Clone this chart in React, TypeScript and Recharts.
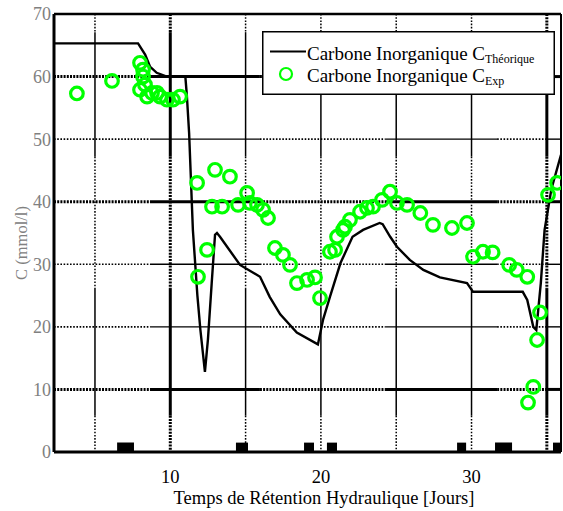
import React from 'react';
import {
  ComposedChart, Line, Scatter, XAxis, YAxis, ReferenceLine, ReferenceArea,
} from 'recharts';

// Theoretical curve (time in days, C in mmol/l)
const T_THEO = [2.28, 7.86, 8.33, 8.65, 9.1, 9.77, 11.0, 11.1, 11.25, 11.5, 11.8, 12.0, 12.3, 12.5, 12.75, 12.97, 13.1, 13.3, 14.63, 15.96, 16.6, 17.3, 18.4, 19.8, 20.15, 20.6, 21.3, 22.1, 22.8, 23.9, 24.1, 24.6, 25.05, 25.9, 26.8, 27.9, 29.7, 30.1, 33.4, 33.7, 34.1, 34.3, 34.6, 34.85, 35.3, 35.94];
const C_THEO = [65.3, 65.3, 63.5, 61.6, 60.6, 60.0, 60.0, 57.0, 51.0, 35.5, 25.0, 19.5, 12.8, 18.0, 27.0, 34.7, 35.0, 34.4, 29.9, 28.0, 24.8, 22.0, 19.1, 17.2, 21.2, 24.8, 30.2, 34.4, 35.5, 36.6, 36.4, 34.4, 32.8, 30.7, 29.1, 27.9, 27.0, 25.6, 25.6, 24.3, 20.0, 19.5, 27.0, 35.5, 42.0, 47.5];

// Experimental points
const T_EXP = [3.8, 6.13, 7.99, 8.19, 8.19, 7.99, 8.32, 8.46, 8.79, 9.12, 9.32, 9.78, 10.18, 10.65,
  11.78, 12.97, 13.96, 12.77, 13.44, 14.5, 15.1, 15.29, 15.76, 16.16, 16.49, 12.44, 11.84, 16.95, 17.48, 17.95, 18.41, 19.08, 19.61, 19.94, 20.6, 21.07, 21.6,
  20.94, 21.47, 21.93, 22.6, 23.06, 23.46, 24.06, 24.59, 25.05, 25.72, 26.6, 27.44, 28.7, 29.7, 30.1, 30.76, 31.4, 32.5, 33.0, 33.7, 34.55, 34.35, 34.1, 33.75, 35.08, 35.68];
const C_EXP = [57.3, 59.3, 62.2, 61.1, 60.0, 57.9, 58.7, 56.8, 57.4, 57.4, 56.8, 56.3, 56.3, 56.8,
  43.0, 45.1, 44.0, 39.2, 39.2, 39.5, 41.4, 39.8, 39.5, 38.7, 37.4, 32.3, 28.0, 32.6, 31.5, 29.9, 27.0, 27.5, 27.9, 24.6, 32.0, 34.4, 36.0,
  32.3, 35.5, 37.1, 38.4, 39.0, 39.2, 40.3, 41.6, 39.8, 39.5, 38.2, 36.3, 35.8, 36.6, 31.2, 32.0, 31.9, 29.9, 29.1, 28.0, 22.3, 17.9, 10.4, 7.9, 41.1, 43.0];

// Small black markers along the time axis
const MARK_START = [6.47, 14.36, 18.88, 20.4, 29.04, 31.56, 35.41];
const MARK_END = [7.59, 15.16, 19.54, 21.07, 29.64, 32.69, 35.94];
const MARK_H = 1.5;

const X_TICKS = [5, 10, 15, 20, 25, 30, 35];
const X_LABELED = [10, 20, 30];
const Y_TICKS = [0, 10, 20, 30, 40, 50, 60, 70];
const Y_GRID = [10, 20, 30, 40, 50, 60];
const X_MIN = 2.28;
const X_MAX = 35.94;

// Grid rendering style: lines alternate between dotted and solid stretches
const H_BREAKS = [X_MIN, 8.65, 15.95, 24.25, 31.7, 35.0, X_MAX];
const V_BREAKS = [70, 67.1, 47.2, 26.2, 5.8, 0];
const THICK_H = [10, 40, 60];
const THICK_V = [10, 35];

const theoData = T_THEO.map((t, i) => ({ t, c: C_THEO[i] }));
const expData = T_EXP.map((t, i) => ({ t, c: C_EXP[i] }));

const SERIF = '"Liberation Serif", "Times New Roman", serif';
const GREEN = '#00ff00';

const OpenCircle = (props: any) => {
  const { cx, cy } = props;
  if (cx == null || cy == null) return null;
  return <circle cx={cx} cy={cy} r={6.3} fill="none" stroke={GREEN} strokeWidth={3.2} />;
};

function gridLines() {
  const out: React.ReactElement[] = [];
  Y_GRID.forEach((v) => {
    const thick = THICK_H.includes(v);
    for (let i = 0; i < H_BREAKS.length - 1; i++) {
      const dotted = i % 2 === 0;
      out.push(
        <ReferenceLine
          key={`h${v}-${i}`}
          segment={[{ x: H_BREAKS[i], y: v }, { x: H_BREAKS[i + 1], y: v }]}
          stroke="#000"
          strokeWidth={thick ? (dotted ? 3 : 3) : (dotted ? 1.6 : 1.4)}
          strokeDasharray={dotted ? (thick ? '2 1.2' : '1.6 1.6') : undefined}
        />
      );
    }
  });
  X_TICKS.forEach((v) => {
    const thick = THICK_V.includes(v);
    for (let i = 0; i < V_BREAKS.length - 1; i++) {
      const dotted = i % 2 === 0;
      out.push(
        <ReferenceLine
          key={`v${v}-${i}`}
          segment={[{ x: v, y: V_BREAKS[i] }, { x: v, y: V_BREAKS[i + 1] }]}
          stroke="#000"
          strokeWidth={thick ? 3 : 1.5}
          strokeDasharray={dotted ? (thick ? '2 1.2' : '1.6 1.6') : undefined}
        />
      );
    }
  });
  return out;
}

export default function App() {
  return (
    <div style={{ position: 'absolute', left: 0, top: 0, width: 563, height: 511, background: '#fff' }}>
      <ComposedChart width={563} height={511} margin={{ top: 14, right: 2, left: 0, bottom: 0 }}>
        <XAxis
          type="number"
          dataKey="t"
          domain={[X_MIN, X_MAX]}
          allowDataOverflow
          ticks={X_TICKS}
          tickFormatter={(v: number) => (X_LABELED.includes(v) ? String(v) : '')}
          height={59}
          tickLine={false}
          tickSize={0}
          tickMargin={18}
          axisLine={{ stroke: '#000', strokeWidth: 3 }}
          tick={{ fill: '#000', fontFamily: SERIF, fontSize: 18.5 }}
          label={{
            content: () => (
              <text x={324} y={504} textAnchor="middle" fontFamily={SERIF} fontSize={18.5} fill="#000">
                Temps de Rétention Hydraulique [Jours]
              </text>
            ),
          }}
        />
        <YAxis
          type="number"
          domain={[0, 70]}
          ticks={Y_TICKS}
          width={54}
          tickLine={false}
          tickSize={0}
          tickMargin={3}
          axisLine={{ stroke: '#000', strokeWidth: 3 }}
          tick={{ fill: '#808080', fontFamily: SERIF, fontSize: 18 }}
          label={{
            content: () => (
              <text x={27} y={243} transform="rotate(-90, 27, 243)" textAnchor="middle" fontFamily={SERIF} fontSize={16.5} fill="#808080">
                C (mmol/l)
              </text>
            ),
          }}
        />
        {gridLines()}
        {MARK_START.map((s, i) => (
          <ReferenceArea key={i} x1={s} x2={MARK_END[i]} y1={0} y2={MARK_H} fill="#000" fillOpacity={1} stroke="none" />
        ))}
        <ReferenceLine y={70} stroke="#000" strokeWidth={2.5} />
        <ReferenceLine x={X_MAX} stroke="#000" strokeWidth={2} />
        <Line
          data={theoData}
          dataKey="c"
          type="linear"
          stroke="#000"
          strokeWidth={2.4}
          dot={false}
          isAnimationActive={false}
        />
        <Scatter data={expData} dataKey="c" shape={OpenCircle} isAnimationActive={false} />
      </ComposedChart>
      <div style={{ position: 'absolute', left: 262, top: 31, width: 293, height: 64 }}>
        <svg width={293} height={64} style={{ display: 'block' }}>
          <rect x={0.75} y={0.75} width={291.5} height={62.5} fill="#fff" stroke="#000" strokeWidth={1.5} />
          <line x1={8} x2={44} y1={20.5} y2={20.5} stroke="#000" strokeWidth={2} />
          <text x={45} y={29} fontFamily={SERIF} fontSize={19} fill="#000">
            Carbone Inorganique C<tspan fontSize={12} dy={3}>Théorique</tspan>
          </text>
          <circle cx={24} cy={43} r={6} fill="none" stroke={GREEN} strokeWidth={2.2} />
          <text x={45} y={51} fontFamily={SERIF} fontSize={19} fill="#000">
            Carbone Inorganique C<tspan fontSize={12} dy={3}>Exp</tspan>
          </text>
        </svg>
      </div>
    </div>
  );
}
